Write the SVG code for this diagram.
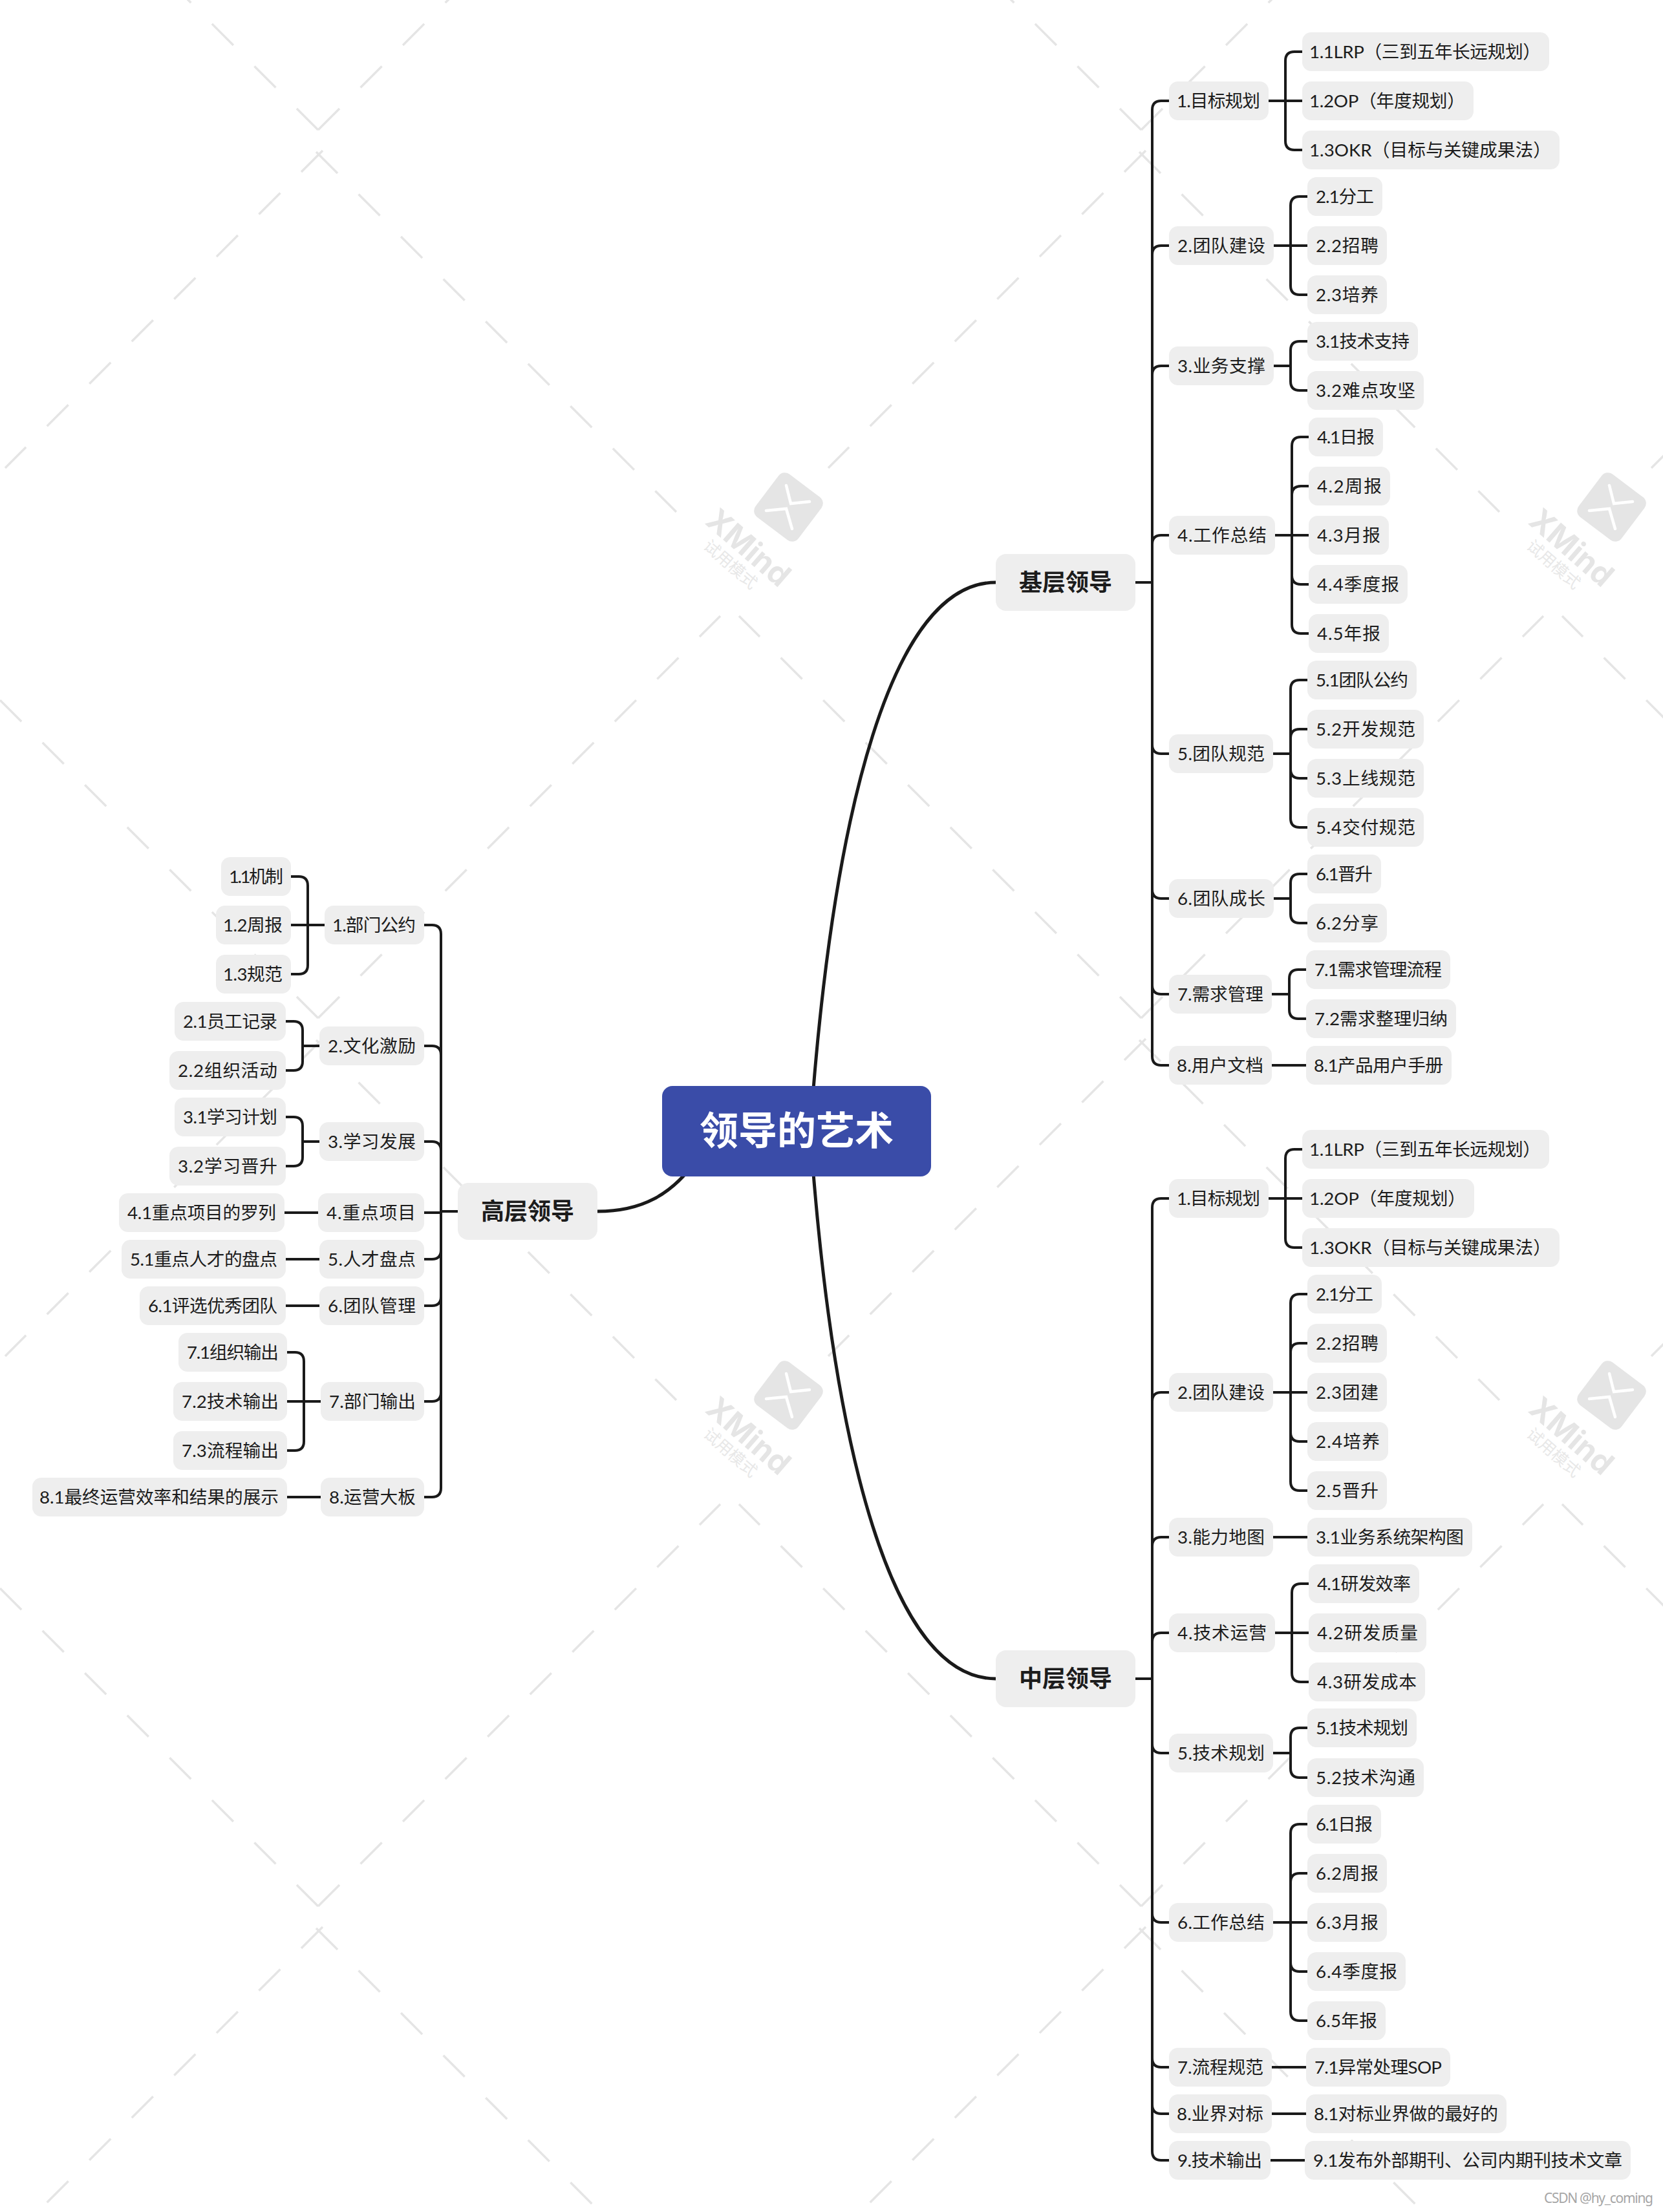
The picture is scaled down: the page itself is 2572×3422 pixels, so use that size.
<svg xmlns="http://www.w3.org/2000/svg" xmlns:xlink="http://www.w3.org/1999/xlink" width="2572" height="3422" viewBox="0 0 2572 3422">
<style>
text{font-family:"Lato","Noto Sans CJK SC",sans-serif;}
.n{fill:#eeeeee;}
.t{font-size:27.7px;fill:#1c1c1c;}
.m{fill:#eeeeee;}
.h{font-family:"Noto Sans CJK SC",sans-serif;font-size:36px;font-weight:700;fill:#1c1c1c;text-anchor:middle;}
.c{fill:none;stroke:#1a1a1a;stroke-width:4;}
.cm{fill:none;stroke:#1a1a1a;stroke-width:5;}
.d{fill:none;stroke:#e5e5e5;stroke-width:3.5;stroke-dasharray:46.7 46;}
</style>
<defs>
<g id="wl">
<path class="d" d="M492,201L1114,-421"/>
<path class="d" d="M499,233L8,724"/>
<path class="d" d="M492,201L-130,-421"/>
<path class="d" d="M489,235L1046,792"/>
</g>
<g id="wlogo">
<rect x="1178" y="743" width="83" height="83" rx="12" fill="#e5e5e5" transform="rotate(37 1219.5 784.5)"/>
<path d="M1216,751L1223,779L1252,776M1185,790L1216,787L1225,818" fill="none" stroke="#ffffff" stroke-width="4.5" stroke-linecap="round"/>
<text x="1158" y="864" font-size="48" font-weight="700" fill="#e5e5e5" text-anchor="middle" transform="rotate(41 1158 847)" style="font-family:Inter,sans-serif">XMind</text>
<text x="1130" y="882" font-size="25" fill="#e8e8e8" text-anchor="middle" transform="rotate(41 1130 873)" style="font-family:'Noto Sans CJK SC',sans-serif">试用模式</text>
</g>
</defs>
<rect width="2572" height="3422" fill="#ffffff"/>
<g id="watermark">
<use href="#wl"/><use href="#wl" x="1273"/><use href="#wl" x="2546"/>
<use href="#wl" y="1374"/><use href="#wl" x="1273" y="1374"/><use href="#wl" x="2546" y="1374"/>
<use href="#wl" y="2748"/><use href="#wl" x="1273" y="2748"/><use href="#wl" x="2546" y="2748"/>
<use href="#wlogo"/><use href="#wlogo" x="1273"/><use href="#wlogo" y="1374"/><use href="#wlogo" x="1273" y="1374"/>
</g>
<g id="connectors">
<path class="cm" d="M1253,1750C1288,1250 1380,901 1540,901"/>
<path class="cm" d="M1253,1750C1288,2249 1380,2597 1540,2597"/>
<path class="cm" d="M1080,1790C1040,1850 990,1874 924,1874"/>
<path class="c" d="M1756,901H1782M1782,170V1634"/>
<path class="c" d="M1782,170Q1782,156 1796,156H1808M1782,394Q1782,380 1796,380H1808M1782,580Q1782,566 1796,566H1808M1782,842Q1782,828 1796,828H1808M1782,1152Q1782,1166 1796,1166H1808M1782,1376Q1782,1390 1796,1390H1808M1782,1524Q1782,1538 1796,1538H1808M1782,1634Q1782,1648 1796,1648H1808"/>
<path class="c" d="M1756,2597H1782M1782,1868V3328"/>
<path class="c" d="M1782,1868Q1782,1854 1796,1854H1808M1782,2168Q1782,2154 1796,2154H1808M1782,2392Q1782,2378 1796,2378H1808M1782,2540Q1782,2526 1796,2526H1808M1782,2698Q1782,2712 1796,2712H1808M1782,2960Q1782,2974 1796,2974H1808M1782,3184Q1782,3198 1796,3198H1808M1782,3256Q1782,3270 1796,3270H1808M1782,3328Q1782,3342 1796,3342H1808"/>
<path class="c" d="M708,1874H682M682,1445V2302"/>
<path class="c" d="M656,1431H668Q682,1431 682,1445M656,1618H668Q682,1618 682,1632M656,1766H668Q682,1766 682,1780M656,1876H682M656,1948H668Q682,1948 682,1934M656,2020H668Q682,2020 682,2006M656,2168H668Q682,2168 682,2154M656,2316H668Q682,2316 682,2302"/>
<path class="c" d="M502,1431H450M450,1356H462Q476,1356 476,1370V1493Q476,1507 462,1507H450"/>
<path class="c" d="M494,1618H468M442,1580H454Q468,1580 468,1594V1642Q468,1656 454,1656H442"/>
<path class="c" d="M494,1766H468M442,1728H454Q468,1728 468,1742V1790Q468,1804 454,1804H442"/>
<path class="c" d="M492,1876H440M494,1948H442M494,2020H442M496,2316H444"/>
<path class="c" d="M496,2168H444M444,2092H456Q470,2092 470,2106V2230Q470,2244 456,2244H444"/>
<path class="c" d="M1962,156H2014M2014,80H2002Q1988,80 1988,94V218Q1988,232 2002,232H2014"/>
<path class="c" d="M1970,380H2022M2022,304H2010Q1996,304 1996,318V442Q1996,456 2010,456H2022"/>
<path class="c" d="M1970,566H1996M2022,528H2010Q1996,528 1996,542V590Q1996,604 2010,604H2022"/>
<path class="c" d="M1972,828H2024M2024,676H2012Q1998,676 1998,690V966Q1998,980 2012,980H2024M1998,766Q1998,752 2012,752H2024M1998,890Q1998,904 2012,904H2024"/>
<path class="c" d="M1969,1166H1996M2022,1052H2010Q1996,1052 1996,1066V1266Q1996,1280 2010,1280H2022M1996,1142Q1996,1128 2010,1128H2022M1996,1190Q1996,1204 2010,1204H2022"/>
<path class="c" d="M1970,1390H1996M2022,1352H2010Q1996,1352 1996,1366V1414Q1996,1428 2010,1428H2022"/>
<path class="c" d="M1967,1538H1994M2020,1500H2008Q1994,1500 1994,1514V1562Q1994,1576 2008,1576H2020"/>
<path class="c" d="M1967,1648H2020"/>
<path class="c" d="M1962,1854H2014M2014,1778H2002Q1988,1778 1988,1792V1916Q1988,1930 2002,1930H2014"/>
<path class="c" d="M1969,2154H2022M2022,2002H2010Q1996,2002 1996,2016V2292Q1996,2306 2010,2306H2022M1996,2092Q1996,2078 2010,2078H2022M1996,2216Q1996,2230 2010,2230H2022"/>
<path class="c" d="M1969,2378H2022"/>
<path class="c" d="M1972,2526H2024M2024,2450H2012Q1998,2450 1998,2464V2588Q1998,2602 2012,2602H2024"/>
<path class="c" d="M1969,2712H1996M2022,2673H2010Q1996,2673 1996,2687V2736Q1996,2750 2010,2750H2022"/>
<path class="c" d="M1969,2974H2022M2022,2822H2010Q1996,2822 1996,2836V3112Q1996,3126 2010,3126H2022M1996,2912Q1996,2898 2010,2898H2022M1996,3036Q1996,3050 2010,3050H2022"/>
<path class="c" d="M1967,3198H2020M1967,3270H2020M1965,3342H2018"/>
</g>
<g id="root"><rect x="1024" y="1680" width="416" height="140" rx="16" fill="#3a4ca8"/><text x="1232" y="1771" font-size="60" font-weight="700" fill="#ffffff" text-anchor="middle" style="font-family:'Noto Sans CJK SC',sans-serif">领导的艺术</text></g>
<g id="b1"><rect class="m" x="1540" y="857" width="216" height="88" rx="16"/><text class="h" x="1648" y="914">基层领导</text></g>
<g id="b2"><rect class="m" x="1540" y="2553" width="216" height="88" rx="16"/><text class="h" x="1648" y="2610">中层领导</text></g>
<g id="b3"><rect class="m" x="708" y="1830" width="216" height="88" rx="16"/><text class="h" x="816" y="1887">高层领导</text></g>

<g id="a1"><rect class="n" x="1808" y="126" width="154" height="60" rx="14"/><text class="t" x="1820" y="166" textLength="129">1.目标规划</text></g>
<g id="a11"><rect class="n" x="2014" y="50" width="382" height="60" rx="14"/><text class="t" x="2025" y="90" textLength="358">1.1LRP（三到五年长远规划）</text></g>
<g id="a12"><rect class="n" x="2014" y="126" width="265" height="60" rx="14"/><text class="t" x="2025" y="166" textLength="241">1.2OP（年度规划）</text></g>
<g id="a13"><rect class="n" x="2014" y="202" width="398" height="60" rx="14"/><text class="t" x="2025" y="242" textLength="374">1.3OKR（目标与关键成果法）</text></g>
<g id="a2"><rect class="n" x="1808" y="350" width="162" height="60" rx="14"/><text class="t" x="1821" y="390" textLength="136">2.团队建设</text></g>
<g id="a21"><rect class="n" x="2022" y="274" width="116" height="60" rx="14"/><text class="t" x="2035" y="314" textLength="90">2.1分工</text></g>
<g id="a22"><rect class="n" x="2022" y="350" width="123" height="60" rx="14"/><text class="t" x="2035" y="390" textLength="97">2.2招聘</text></g>
<g id="a23"><rect class="n" x="2022" y="426" width="123" height="60" rx="14"/><text class="t" x="2035" y="466" textLength="97">2.3培养</text></g>
<g id="a3"><rect class="n" x="1808" y="536" width="162" height="60" rx="14"/><text class="t" x="1821" y="576" textLength="136">3.业务支撑</text></g>
<g id="a31"><rect class="n" x="2022" y="498" width="171" height="60" rx="14"/><text class="t" x="2035" y="538" textLength="145">3.1技术支持</text></g>
<g id="a32"><rect class="n" x="2022" y="574" width="180" height="60" rx="14"/><text class="t" x="2035" y="614" textLength="154">3.2难点攻坚</text></g>
<g id="a4"><rect class="n" x="1808" y="798" width="164" height="60" rx="14"/><text class="t" x="1821" y="838" textLength="138">4.工作总结</text></g>
<g id="a41"><rect class="n" x="2024" y="646" width="115" height="60" rx="14"/><text class="t" x="2037" y="686" textLength="89">4.1日报</text></g>
<g id="a42"><rect class="n" x="2024" y="722" width="126" height="60" rx="14"/><text class="t" x="2037" y="762" textLength="100">4.2周报</text></g>
<g id="a43"><rect class="n" x="2024" y="798" width="124" height="60" rx="14"/><text class="t" x="2037" y="838" textLength="98">4.3月报</text></g>
<g id="a44"><rect class="n" x="2024" y="874" width="153" height="60" rx="14"/><text class="t" x="2037" y="914" textLength="127">4.4季度报</text></g>
<g id="a45"><rect class="n" x="2024" y="950" width="124" height="60" rx="14"/><text class="t" x="2037" y="990" textLength="98">4.5年报</text></g>
<g id="a5"><rect class="n" x="1808" y="1136" width="161" height="60" rx="14"/><text class="t" x="1821" y="1176" textLength="135">5.团队规范</text></g>
<g id="a51"><rect class="n" x="2022" y="1022" width="169" height="60" rx="14"/><text class="t" x="2035" y="1062" textLength="143">5.1团队公约</text></g>
<g id="a52"><rect class="n" x="2022" y="1098" width="180" height="60" rx="14"/><text class="t" x="2035" y="1138" textLength="154">5.2开发规范</text></g>
<g id="a53"><rect class="n" x="2022" y="1174" width="180" height="60" rx="14"/><text class="t" x="2035" y="1214" textLength="154">5.3上线规范</text></g>
<g id="a54"><rect class="n" x="2022" y="1250" width="180" height="60" rx="14"/><text class="t" x="2035" y="1290" textLength="154">5.4交付规范</text></g>
<g id="a6"><rect class="n" x="1808" y="1360" width="162" height="60" rx="14"/><text class="t" x="1821" y="1400" textLength="136">6.团队成长</text></g>
<g id="a61"><rect class="n" x="2022" y="1322" width="114" height="60" rx="14"/><text class="t" x="2035" y="1362" textLength="88">6.1晋升</text></g>
<g id="a62"><rect class="n" x="2022" y="1398" width="123" height="60" rx="14"/><text class="t" x="2035" y="1438" textLength="97">6.2分享</text></g>
<g id="a7"><rect class="n" x="1808" y="1508" width="159" height="60" rx="14"/><text class="t" x="1821" y="1548" textLength="133">7.需求管理</text></g>
<g id="a71"><rect class="n" x="2020" y="1470" width="223" height="60" rx="14"/><text class="t" x="2033" y="1510" textLength="197">7.1需求管理流程</text></g>
<g id="a72"><rect class="n" x="2020" y="1546" width="232" height="60" rx="14"/><text class="t" x="2033" y="1586" textLength="206">7.2需求整理归纳</text></g>
<g id="a8"><rect class="n" x="1808" y="1618" width="159" height="60" rx="14"/><text class="t" x="1820" y="1658" textLength="134">8.用户文档</text></g>
<g id="a81"><rect class="n" x="2020" y="1618" width="225" height="60" rx="14"/><text class="t" x="2032" y="1658" textLength="200">8.1产品用户手册</text></g>

<g id="c1"><rect class="n" x="1808" y="1824" width="154" height="60" rx="14"/><text class="t" x="1820" y="1864" textLength="129">1.目标规划</text></g>
<g id="c11"><rect class="n" x="2014" y="1748" width="382" height="60" rx="14"/><text class="t" x="2025" y="1788" textLength="358">1.1LRP（三到五年长远规划）</text></g>
<g id="c12"><rect class="n" x="2014" y="1824" width="266" height="60" rx="14"/><text class="t" x="2025" y="1864" textLength="242">1.2OP（年度规划）</text></g>
<g id="c13"><rect class="n" x="2014" y="1900" width="398" height="60" rx="14"/><text class="t" x="2025" y="1940" textLength="374">1.3OKR（目标与关键成果法）</text></g>
<g id="c2"><rect class="n" x="1808" y="2124" width="161" height="60" rx="14"/><text class="t" x="1821" y="2164" textLength="135">2.团队建设</text></g>
<g id="c21"><rect class="n" x="2022" y="1972" width="115" height="60" rx="14"/><text class="t" x="2035" y="2012" textLength="89">2.1分工</text></g>
<g id="c22"><rect class="n" x="2022" y="2048" width="123" height="60" rx="14"/><text class="t" x="2035" y="2088" textLength="97">2.2招聘</text></g>
<g id="c23"><rect class="n" x="2022" y="2124" width="123" height="60" rx="14"/><text class="t" x="2035" y="2164" textLength="97">2.3团建</text></g>
<g id="c24"><rect class="n" x="2022" y="2200" width="125" height="60" rx="14"/><text class="t" x="2035" y="2240" textLength="99">2.4培养</text></g>
<g id="c25"><rect class="n" x="2022" y="2276" width="123" height="60" rx="14"/><text class="t" x="2035" y="2316" textLength="97">2.5晋升</text></g>
<g id="c3"><rect class="n" x="1808" y="2348" width="161" height="60" rx="14"/><text class="t" x="1821" y="2388" textLength="135">3.能力地图</text></g>
<g id="c31"><rect class="n" x="2022" y="2348" width="255" height="60" rx="14"/><text class="t" x="2035" y="2388" textLength="229">3.1业务系统架构图</text></g>
<g id="c4"><rect class="n" x="1808" y="2496" width="164" height="60" rx="14"/><text class="t" x="1821" y="2536" textLength="138">4.技术运营</text></g>
<g id="c41"><rect class="n" x="2024" y="2420" width="171" height="60" rx="14"/><text class="t" x="2037" y="2460" textLength="145">4.1研发效率</text></g>
<g id="c42"><rect class="n" x="2024" y="2496" width="182" height="60" rx="14"/><text class="t" x="2037" y="2536" textLength="156">4.2研发质量</text></g>
<g id="c43"><rect class="n" x="2024" y="2572" width="180" height="60" rx="14"/><text class="t" x="2037" y="2612" textLength="154">4.3研发成本</text></g>
<g id="c5"><rect class="n" x="1808" y="2682" width="161" height="60" rx="14"/><text class="t" x="1821" y="2722" textLength="135">5.技术规划</text></g>
<g id="c51"><rect class="n" x="2022" y="2643" width="169" height="60" rx="14"/><text class="t" x="2035" y="2683" textLength="143">5.1技术规划</text></g>
<g id="c52"><rect class="n" x="2022" y="2720" width="180" height="60" rx="14"/><text class="t" x="2035" y="2760" textLength="154">5.2技术沟通</text></g>
<g id="c6"><rect class="n" x="1808" y="2944" width="161" height="60" rx="14"/><text class="t" x="1821" y="2984" textLength="135">6.工作总结</text></g>
<g id="c61"><rect class="n" x="2022" y="2792" width="114" height="60" rx="14"/><text class="t" x="2035" y="2832" textLength="88">6.1日报</text></g>
<g id="c62"><rect class="n" x="2022" y="2868" width="123" height="60" rx="14"/><text class="t" x="2035" y="2908" textLength="97">6.2周报</text></g>
<g id="c63"><rect class="n" x="2022" y="2944" width="123" height="60" rx="14"/><text class="t" x="2035" y="2984" textLength="97">6.3月报</text></g>
<g id="c64"><rect class="n" x="2022" y="3020" width="152" height="60" rx="14"/><text class="t" x="2035" y="3060" textLength="126">6.4季度报</text></g>
<g id="c65"><rect class="n" x="2022" y="3096" width="121" height="60" rx="14"/><text class="t" x="2035" y="3136" textLength="95">6.5年报</text></g>
<g id="c7"><rect class="n" x="1808" y="3168" width="159" height="60" rx="14"/><text class="t" x="1821" y="3208" textLength="133">7.流程规范</text></g>
<g id="c71"><rect class="n" x="2020" y="3168" width="223" height="60" rx="14"/><text class="t" x="2033" y="3208" textLength="197">7.1异常处理SOP</text></g>
<g id="c8"><rect class="n" x="1808" y="3240" width="159" height="60" rx="14"/><text class="t" x="1820" y="3280" textLength="134">8.业界对标</text></g>
<g id="c81"><rect class="n" x="2020" y="3240" width="310" height="60" rx="14"/><text class="t" x="2032" y="3280" textLength="285">8.1对标业界做的最好的</text></g>
<g id="c9"><rect class="n" x="1808" y="3312" width="157" height="60" rx="14"/><text class="t" x="1821" y="3352" textLength="131">9.技术输出</text></g>
<g id="c91"><rect class="n" x="2018" y="3312" width="504" height="60" rx="14"/><text class="t" x="2031" y="3352" textLength="478">9.1发布外部期刊、公司内期刊技术文章</text></g>

<g id="d1"><rect class="n" x="502" y="1401" width="154" height="60" rx="14"/><text class="t" x="514" y="1441" textLength="129">1.部门公约</text></g>
<g id="d11"><rect class="n" x="342" y="1326" width="108" height="60" rx="14"/><text class="t" x="354" y="1366" textLength="84">1.1机制</text></g>
<g id="d12"><rect class="n" x="334" y="1401" width="116" height="60" rx="14"/><text class="t" x="345" y="1441" textLength="92">1.2周报</text></g>
<g id="d13"><rect class="n" x="334" y="1477" width="116" height="60" rx="14"/><text class="t" x="345" y="1517" textLength="92">1.3规范</text></g>
<g id="d2"><rect class="n" x="494" y="1588" width="162" height="60" rx="14"/><text class="t" x="507" y="1628" textLength="136">2.文化激励</text></g>
<g id="d21"><rect class="n" x="270" y="1550" width="172" height="60" rx="14"/><text class="t" x="283" y="1590" textLength="146">2.1员工记录</text></g>
<g id="d22"><rect class="n" x="262" y="1626" width="180" height="60" rx="14"/><text class="t" x="275" y="1666" textLength="154">2.2组织活动</text></g>
<g id="d3"><rect class="n" x="494" y="1736" width="162" height="60" rx="14"/><text class="t" x="507" y="1776" textLength="136">3.学习发展</text></g>
<g id="d31"><rect class="n" x="270" y="1698" width="172" height="60" rx="14"/><text class="t" x="283" y="1738" textLength="146">3.1学习计划</text></g>
<g id="d32"><rect class="n" x="262" y="1774" width="180" height="60" rx="14"/><text class="t" x="275" y="1814" textLength="154">3.2学习晋升</text></g>
<g id="d4"><rect class="n" x="492" y="1846" width="164" height="60" rx="14"/><text class="t" x="505" y="1886" textLength="138">4.重点项目</text></g>
<g id="d41"><rect class="n" x="184" y="1846" width="256" height="60" rx="14"/><text class="t" x="197" y="1886" textLength="230">4.1重点项目的罗列</text></g>
<g id="d5"><rect class="n" x="494" y="1918" width="162" height="60" rx="14"/><text class="t" x="507" y="1958" textLength="136">5.人才盘点</text></g>
<g id="d51"><rect class="n" x="188" y="1918" width="254" height="60" rx="14"/><text class="t" x="201" y="1958" textLength="228">5.1重点人才的盘点</text></g>
<g id="d6"><rect class="n" x="494" y="1990" width="162" height="60" rx="14"/><text class="t" x="507" y="2030" textLength="136">6.团队管理</text></g>
<g id="d61"><rect class="n" x="216" y="1990" width="226" height="60" rx="14"/><text class="t" x="229" y="2030" textLength="200">6.1评选优秀团队</text></g>
<g id="d7"><rect class="n" x="496" y="2138" width="160" height="60" rx="14"/><text class="t" x="509" y="2178" textLength="134">7.部门输出</text></g>
<g id="d71"><rect class="n" x="276" y="2062" width="168" height="60" rx="14"/><text class="t" x="289" y="2102" textLength="142">7.1组织输出</text></g>
<g id="d72"><rect class="n" x="268" y="2138" width="176" height="60" rx="14"/><text class="t" x="281" y="2178" textLength="150">7.2技术输出</text></g>
<g id="d73"><rect class="n" x="268" y="2214" width="176" height="60" rx="14"/><text class="t" x="281" y="2254" textLength="150">7.3流程输出</text></g>
<g id="d8"><rect class="n" x="496" y="2286" width="160" height="60" rx="14"/><text class="t" x="509" y="2326" textLength="134">8.运营大板</text></g>
<g id="d81"><rect class="n" x="50" y="2286" width="394" height="60" rx="14"/><text class="t" x="61" y="2326" textLength="370">8.1最终运营效率和结果的展示</text></g>
<text x="2388" y="3408" font-size="21" fill="#a6a6a6" textLength="169" style="font-family:'Noto Sans',sans-serif">CSDN @hy_coming</text>
</svg>
